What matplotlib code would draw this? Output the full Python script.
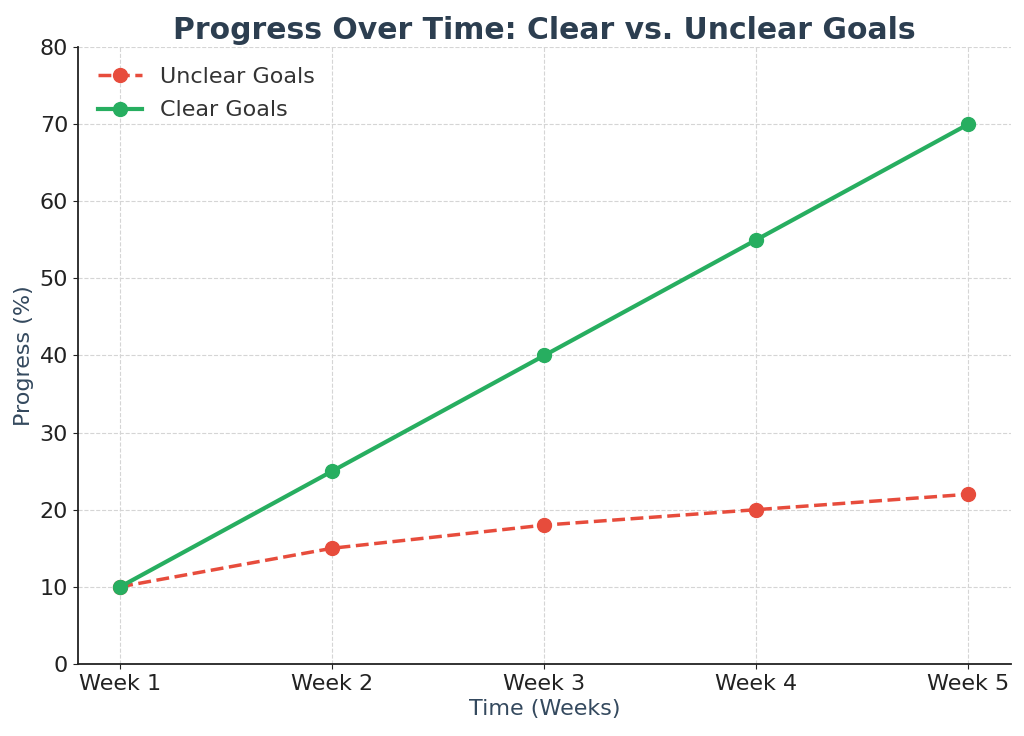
import numpy as np
import matplotlib.pyplot as plt

weeks = ["Week 1", "Week 2", "Week 3", "Week 4", "Week 5"]
unclear_goals = [10, 15, 18, 20, 22]
clear_goals = [10, 25, 40, 55, 70]

fig, ax = plt.subplots(figsize=(10.24, 7.36), dpi=100)
x = np.arange(len(weeks))

ax.plot(x, unclear_goals, color='#e74c3c', lw=2.5, ls='--', marker='o',
        ms=10, label='Unclear Goals')
ax.plot(x, clear_goals, color='#27ae60', lw=3, marker='o', ms=10,
        label='Clear Goals')

ax.set_xticks(x)
ax.set_xticklabels(weeks)
ax.set_ylim(0, 80)
ax.tick_params(labelsize=16, colors='#222222')
ax.grid(True, ls='--', color='#d5d5d5', lw=0.8)
ax.set_axisbelow(True)
for s in ['top', 'right']:
    ax.spines[s].set_visible(False)
for s in ['left', 'bottom']:
    ax.spines[s].set_color('#222222')
    ax.spines[s].set_linewidth(1.3)

ax.set_title('Progress Over Time: Clear vs. Unclear Goals', fontsize=21.5,
             fontweight='bold', color='#2c3e50')
ax.set_xlabel('Time (Weeks)', fontsize=16, color='#34495e')
ax.set_ylabel('Progress (%)', fontsize=16, color='#34495e')
leg = ax.legend(fontsize=16, frameon=False, loc='upper left',
                handlelength=2.0, labelspacing=0.6)
for t in leg.get_texts():
    t.set_color('#333333')

fig.subplots_adjust(left=0.076, right=0.987, top=0.936, bottom=0.098)
fig.savefig('out.png')
